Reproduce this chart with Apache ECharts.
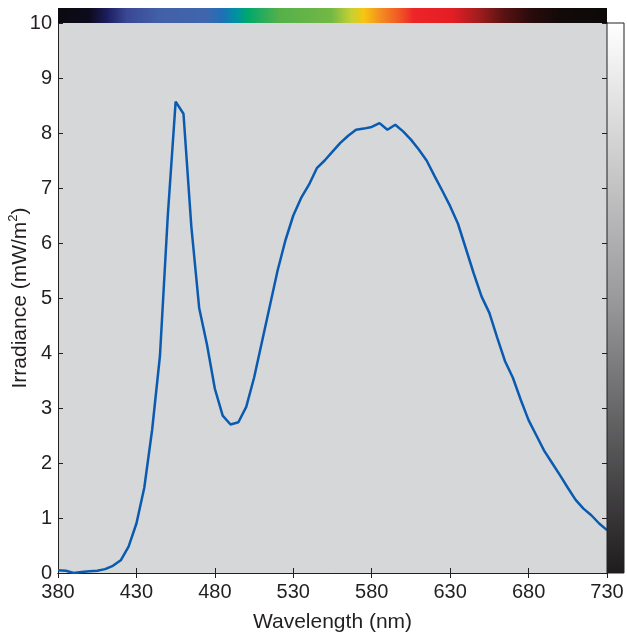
<!DOCTYPE html>
<html>
<head>
<meta charset="utf-8">
<script src="https://cdn.jsdelivr.net/npm/echarts@6/dist/echarts.min.js"></script>
<style>
html, body { margin: 0; padding: 0; background: #fff; }
#chart { width: 627px; height: 635px; }
</style>
</head>
<body>
<div id="chart"></div>
<script>
var chart = echarts.init(document.getElementById('chart'));

// 波长 380-730nm, 每 5nm 一个点
var wavelengths = [];
for (var w = 380; w <= 730; w += 5) wavelengths.push(w);

var irradiance = [
	0.05, 0.04, 0.00, 0.02, 0.03, 0.04, 0.07, 0.13, 0.23, 0.48,
	0.90, 1.55, 2.60, 3.95, 6.50, 8.57, 8.35, 6.30, 4.82, 4.15,
	3.35, 2.86, 2.70, 2.74, 3.02, 3.55, 4.20, 4.85, 5.50, 6.05,
	6.50, 6.82, 7.06, 7.36, 7.50, 7.66, 7.82, 7.95, 8.06, 8.08,
	8.11, 8.18, 8.06, 8.15, 8.03, 7.88, 7.70, 7.50, 7.22, 6.95,
	6.67, 6.35, 5.90, 5.45, 5.03, 4.73, 4.28, 3.85, 3.55, 3.15,
	2.78, 2.50, 2.22, 2.00, 1.78, 1.55, 1.33, 1.17, 1.05, 0.90,
	0.78
];

var xTicks = [380, 430, 480, 530, 580, 630, 680, 730];

// 顶部光谱色带 [波长, 颜色]
var spectrumStops = [
	[380, '#0b0a10'], [400, '#0d0b1c'], [411, '#1c1c5c'], [424, '#3a4896'],
	[445, '#4260a8'], [475, '#3f66ad'], [485, '#1e70b6'], [493, '#0090a4'],
	[501, '#00a86c'], [521, '#55b04a'], [554, '#72b845'], [567, '#c6d133'],
	[575, '#f7c611'], [585, '#f4901f'], [597, '#f15a25'], [607, '#ed2428'],
	[631, '#e41e25'], [648, '#a21d1e'], [664, '#5a1212'], [681, '#2a0b0b'],
	[700, '#130909'], [730, '#0d0909']
];

var line = [];
for (var i = 0; i < wavelengths.length; i++) {
	line.push([wavelengths[i], irradiance[i]]);
}

var axisColor = '#231f20';
var fontFamily = 'Liberation Sans, Arial, sans-serif';

var option = {
	backgroundColor: '#fff',
	animation: false,
	grid: {
		left: 58, right: 20, top: 23, bottom: 62,
		containLabel: false, outerBoundsMode: 'none',
		show: true, backgroundColor: '#d6d7d9', borderWidth: 0
	},
	xAxis: [{
		type: 'value', min: 380, max: 730, interval: 50,
		name: 'Wavelength (nm)', nameLocation: 'middle', nameGap: 39,
		nameMoveOverlap: false,
		nameTextStyle: { color: axisColor, fontSize: 21, fontFamily: fontFamily },
		axisLine: { show: true, lineStyle: { color: axisColor, width: 1 } },
		axisTick: { show: true, inside: true, length: 5, lineStyle: { color: axisColor } },
		axisLabel: { color: axisColor, fontSize: 20, fontFamily: fontFamily, margin: 9,
			customValues: xTicks },
		splitLine: { show: false }
	}, {
		type: 'value', min: 380, max: 730, interval: 50, position: 'top',
		axisLine: { show: true, lineStyle: { color: axisColor, width: 1 } },
		axisTick: { show: true, inside: true, length: 5, lineStyle: { color: axisColor } },
		axisLabel: { show: false },
		splitLine: { show: false }
	}],
	yAxis: [{
		type: 'value', min: 0, max: 10, interval: 1,
		name: '{a|Irradiance (mW/m}{s|2}{a|)}', nameLocation: 'middle', nameGap: 27,
		nameMoveOverlap: false,
		nameTextStyle: {
			color: axisColor, fontSize: 21, fontFamily: fontFamily,
			rich: {
				a: { color: axisColor, fontSize: 21, fontFamily: fontFamily, lineHeight: 24, verticalAlign: 'bottom' },
				s: { color: axisColor, fontSize: 13, fontFamily: fontFamily, lineHeight: 24, verticalAlign: 'top' }
			}
		},
		axisLine: { show: true, lineStyle: { color: axisColor, width: 1 } },
		axisTick: { show: true, inside: true, length: 5, lineStyle: { color: axisColor } },
		axisLabel: { color: axisColor, fontSize: 20, fontFamily: fontFamily, margin: 6 },
		splitLine: { show: false }
	}, {
		type: 'value', min: 0, max: 10, interval: 1, position: 'right',
		axisLine: { show: true, lineStyle: { color: axisColor, width: 1 } },
		axisTick: { show: true, inside: true, length: 5, lineStyle: { color: axisColor } },
		axisLabel: { show: false },
		splitLine: { show: false }
	}],
	series: [{
		type: 'line',
		data: line,
		showSymbol: false,
		lineStyle: { color: '#0a5bb0', width: 2.5 },
		z: 5
	}]
};
chart.setOption(option);

// 色带位置由坐标轴换算
var pTL = chart.convertToPixel({ gridIndex: 0 }, [380, 10]);
var pBR = chart.convertToPixel({ gridIndex: 0 }, [730, 0]);
var span = 730 - 380;
var stops = spectrumStops.map(function(s) {
	return { offset: (s[0] - 380) / span, color: s[1] };
});

chart.setOption({
	graphic: [{
		type: 'rect',
		shape: { x: pTL[0], y: 8, width: pBR[0] - pTL[0], height: pTL[1] - 8 },
		style: { fill: new echarts.graphic.LinearGradient(0, 0, 1, 0, stops) },
		z: 10
	}, {
		type: 'rect',
		shape: { x: pBR[0], y: pTL[1], width: 624 - pBR[0], height: pBR[1] - pTL[1] },
		style: {
			fill: new echarts.graphic.LinearGradient(0, 0, 0, 1, [
				{ offset: 0, color: '#ffffff' },
				{ offset: 0.5, color: '#9a9a9c' },
				{ offset: 1, color: '#1e1c1d' }
			]),
			stroke: axisColor, lineWidth: 1
		},
		z: 10
	}]
});
</script>
</body>
</html>
